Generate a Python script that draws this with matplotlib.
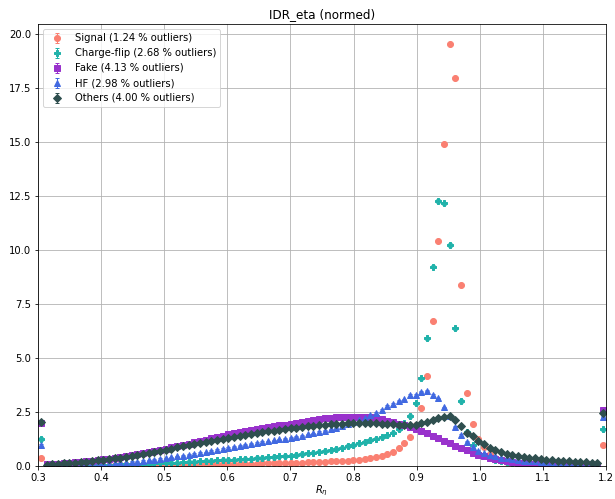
import numpy as np
import matplotlib
matplotlib.use("Agg")
import matplotlib.pyplot as plt

# bins: 100 bins from 0.3 to 1.2 (first/last include under/overflow)
bin_edges = np.linspace(0.3, 1.2, 101)
bin_centers = 0.5 * (bin_edges[:-1] + bin_edges[1:])

signal = ([0.36] +
          [0.01,0.01,0.01,0.01,0.01,0.01,0.02,0.02,0.02,0.02,0.02,0.02,0.03,0.03,0.03,0.03,0.03,0.04,0.04,0.04] +
          [0.04,0.05,0.05,0.05,0.06,0.06,0.06,0.07,0.07,0.08,0.08,0.08,0.09,0.09,0.10,0.10,0.11,0.11,0.12,0.12] +
          [0.13,0.13,0.14,0.15,0.15,0.16,0.17,0.18,0.19,0.20,0.21,0.22,0.24,0.25,0.27] +
          [0.29,0.32,0.36,0.41] +
          [0.48,0.56,0.66,0.82,1.05,1.34,1.90,2.70,4.18,6.73,10.42,14.89,19.55,17.95,8.38,3.37,1.96,1.24,0.86] +
          [0.55,0.38,0.27,0.20,0.15,0.11,0.09,0.07,0.06,0.05,0.04,0.04,0.03,0.03,0.03,0.02,0.02,0.02,0.02,0.02] +
          [0.96])

chargeflip = ([1.24] +
              [0.01,0.01,0.02,0.02,0.02,0.03,0.03,0.03,0.04,0.04,0.05,0.05,0.06,0.07,0.07,0.08,0.09,0.10,0.11,0.12] +
              [0.13,0.14,0.15,0.16,0.17,0.19,0.20,0.21,0.23,0.24,0.26,0.27,0.28,0.30,0.31,0.33,0.34,0.36,0.38,0.40] +
              [0.42,0.44,0.46,0.48,0.51,0.55,0.58,0.62,0.66,0.69,0.73,0.79,0.85,0.92,0.97] +
              [1.05,1.12,1.20,1.27] +
              [1.33,1.42,1.55,1.72,1.98,2.31,2.90,4.06,5.91,9.23,12.28,12.16,10.23,6.37,3.00,1.57,0.95,0.62,0.45] +
              [0.35,0.28,0.22,0.18,0.15,0.13,0.11,0.09,0.08,0.07,0.06,0.05,0.05,0.04,0.04,0.03,0.03,0.03,0.02,0.02] +
              [1.70])

fake = ([2.00] +
        [0.07,0.09,0.11,0.13,0.15,0.17,0.19,0.22,0.25,0.28,0.31,0.34,0.38,0.42,0.46,0.50,0.54,0.59,0.64,0.69] +
        [0.74,0.80,0.86,0.92,0.98,1.04,1.10,1.16,1.22,1.28,1.34,1.40,1.46,1.51,1.56,1.61,1.66,1.71,1.76,1.80] +
        [1.84,1.88,1.92,1.96,2.00,2.04,2.08,2.12,2.16,2.20,2.23,2.25,2.27,2.28,2.29] +
        [2.29,2.28,2.26,2.22] +
        [2.17,2.10,2.03,1.96,1.88,1.80,1.72,1.63,1.52,1.41,1.30,1.18,1.06,0.94,0.83,0.72,0.62,0.52,0.44] +
        [0.37,0.31,0.26,0.22,0.18,0.15,0.13,0.11,0.09,0.08,0.07,0.06,0.05,0.04,0.04,0.03,0.03,0.03,0.02,0.02] +
        [2.59])

hf = ([0.97] +
      [0.01,0.02,0.02,0.03,0.03,0.04,0.05,0.06,0.07,0.08,0.09,0.10,0.12,0.14,0.16,0.18,0.20,0.23,0.26,0.29] +
      [0.32,0.36,0.40,0.44,0.48,0.52,0.56,0.60,0.64,0.69,0.74,0.79,0.84,0.89,0.94,0.99,1.03,1.07,1.11,1.15] +
      [1.19,1.23,1.27,1.31,1.36,1.41,1.46,1.51,1.57,1.63,1.70,1.78,1.87,1.96,2.05] +
      [2.14,2.24,2.34,2.46] +
      [2.59,2.78,2.87,3.02,3.09,3.29,3.29,3.44,3.49,3.29,3.13,2.72,2.30,1.82,1.43,1.12,0.88,0.70,0.58] +
      [0.50,0.44,0.39,0.35,0.31,0.28,0.25,0.23,0.21,0.19,0.17,0.16,0.15,0.14,0.13,0.12,0.11,0.10,0.10,0.09] +
      [2.28])

others = ([2.05] +
          [0.06,0.08,0.10,0.12,0.14,0.16,0.18,0.20,0.23,0.26,0.29,0.32,0.35,0.39,0.43,0.47,0.51,0.55,0.60,0.65] +
          [0.70,0.75,0.80,0.86,0.91,0.96,1.01,1.06,1.11,1.16,1.21,1.26,1.31,1.36,1.41,1.45,1.49,1.53,1.57,1.60] +
          [1.63,1.67,1.70,1.74,1.77,1.80,1.83,1.86,1.89,1.92,1.94,1.95,1.96,1.97,1.98] +
          [1.98,1.99,1.99,1.98] +
          [1.96,1.95,1.93,1.92,1.90,1.90,1.92,1.98,2.05,2.12,2.20,2.27,2.32,2.15,1.85,1.55,1.38,1.15,1.00] +
          [0.85,0.74,0.64,0.57,0.51,0.46,0.42,0.38,0.35,0.32,0.29,0.27,0.25,0.23,0.21,0.19,0.18,0.17,0.16,0.15] +
          [2.47])

series = [
    ("Signal (1.24 % outliers)", signal, "#fa8072", "o", 0.06),
    ("Charge-flip (2.68 % outliers)", chargeflip, "#20b2aa", "P", 0.08),
    ("Fake (4.13 % outliers)", fake, "#9932cc", "s", 0.02),
    ("HF (2.98 % outliers)", hf, "#4169e1", "^", 0.03),
    ("Others (4.00 % outliers)", others, "#2f4f4f", "D", 0.04),
]

fig = plt.figure(figsize=(615/72, 499/72), dpi=72)
ax = fig.add_axes([38/615, 1-466/499, (606-38)/615, (466-24)/499])

for label, vals, color, marker, err in series:
    ax.errorbar(bin_centers, vals, yerr=err, fmt=marker, color=color,
                ms=6, capsize=2, elinewidth=1, label=label)

ax.set_xlim(0.3, 1.2)
ax.set_ylim(0, 20.47)
ax.set_yticks(np.arange(0, 20.01, 2.5))
ax.grid(True, color="#b0b0b0", linewidth=0.8)
ax.set_axisbelow(True)
ax.set_title("IDR_eta (normed)", fontsize=12)
ax.set_xlabel(r"$R_\eta$", labelpad=1)
ax.legend(loc="upper left", fontsize=10)

fig.savefig("out.png", dpi=72)
